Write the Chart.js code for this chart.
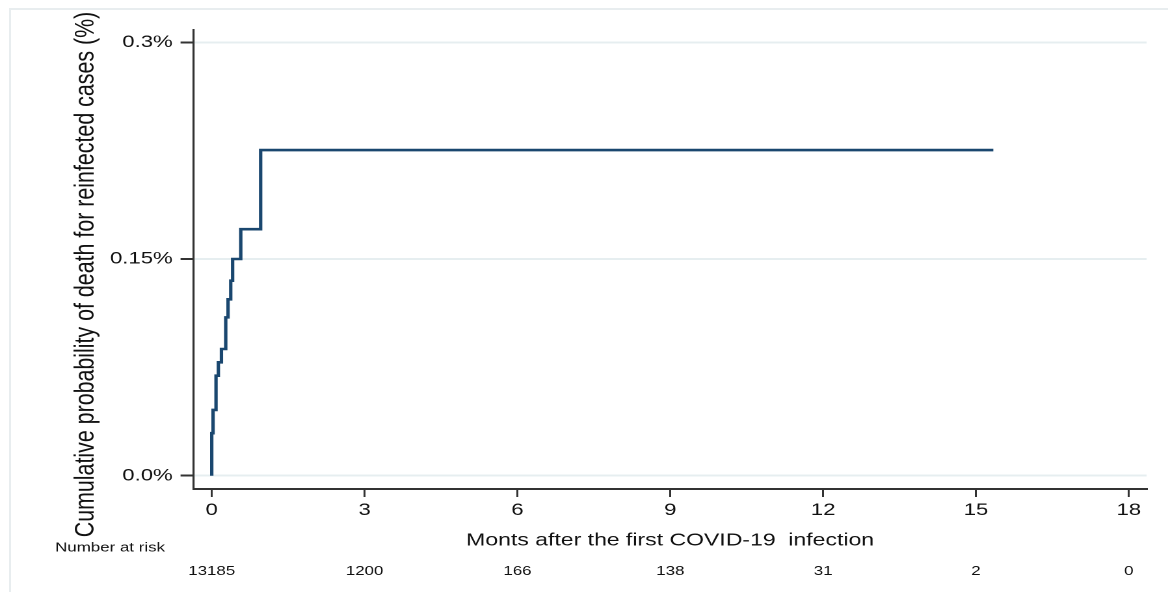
<!DOCTYPE html>
<html>
<head>
<meta charset="utf-8">
<title>Cumulative probability of death for reinfected cases</title>
<script src="https://cdn.jsdelivr.net/npm/chart.js@4/dist/chart.umd.min.js"></script>
<style>
    html, body { margin: 0; padding: 0; background: #fff; overflow: hidden; }
    #frame { position: absolute; left: 9px; top: 8px; width: 1170px; height: 600px; border-left: 2px solid #e8edef; border-top: 2px solid #e8edef; }
    /* the reference figure is stretched sideways, so is this one */
    #stretch { position: absolute; left: 0; top: 0; width: 898px; height: 592px; transform: scaleX(1.30067); transform-origin: 0 0; }
</style>
</head>
<body>
<div id="frame"></div>
<div id="stretch"><canvas id="kmChart" width="898" height="592"></canvas></div>
<script>
// KM failure steps: months and cumulative probability of death (%)
var eventMonths = [0, 0, 0.026, 0.084, 0.13, 0.19, 0.275, 0.32, 0.373, 0.41, 0.57, 0.96, 15.34];
var cumDeath = [0, 0.0294, 0.0455, 0.0692, 0.0785, 0.0877, 0.1096, 0.1221, 0.135, 0.15, 0.1706, 0.2254, 0.2254];

var xTicks = [0, 3, 6, 9, 12, 15, 18];
var yTicks = [0, 0.15, 0.3];
var yTickLabels = ['0.0%', '0.15%', '0.3%'];

var riskMonths = [0, 3, 6, 9, 12, 15, 18];
var numberAtRisk = [13185, 1200, 166, 138, 31, 2, 0];

var FONT = '"Liberation Sans", Arial, sans-serif';
var TEXT = '#111111';
var AXIS = '#333333';

Chart.defaults.font.family = FONT;

//number at risk row + rotated y title
var riskTable = {
    id: 'riskTable',
    afterDraw: function (chart) {
        var ctx = chart.ctx;
        var xs = chart.scales.x;
        ctx.save();
        ctx.fillStyle = TEXT;
        ctx.textAlign = 'center';
        ctx.textBaseline = 'middle';
        ctx.font = '13px ' + FONT;
        ctx.fillText('Number at risk', 84.6, 548);
        for (var i = 0; i < numberAtRisk.length; i++) {
            ctx.fillText(String(numberAtRisk[i]), xs.getPixelForValue(riskMonths[i]), 571.5);
        }
        ctx.translate(66, 274.5);
        ctx.rotate(-Math.PI / 2);
        ctx.font = '21.4px ' + FONT;
        ctx.fillText('Cumulative probability of death for reinfected cases (%)', 0, 0);
        ctx.restore();
    }
};

var points = eventMonths.map(function (m, i) { return { x: m, y: cumDeath[i] }; });

new Chart(document.getElementById('kmChart'), {
    type: 'line',
    data: {
        datasets: [{
            data: points,
            stepped: true,
            borderColor: '#1a476f',
            borderWidth: 2.6,
            pointRadius: 0,
            fill: false
        }]
    },
    options: {
        responsive: false,
        animation: false,
        devicePixelRatio: 2,
        layout: { padding: { left: 0, right: 16.4, top: 30, bottom: 40.9 } },
        plugins: {
            legend: { display: false },
            tooltip: { enabled: false }
        },
        scales: {
            x: {
                type: 'linear',
                min: -0.357,
                max: 18.35,
                afterBuildTicks: function (s) { s.ticks = xTicks.map(function (v) { return { value: v }; }); },
                afterFit: function (s) { s.height = 62.1; },
                grid: { drawOnChartArea: false, tickLength: 8, tickColor: AXIS, tickWidth: 1.5, lineWidth: 1.5 },
                border: { color: AXIS, width: 2 },
                ticks: { padding: 3, color: TEXT, font: { size: 17 }, maxRotation: 0, autoSkip: false },
                title: {
                    display: true,
                    text: 'Monts after the first COVID-19  infection',
                    color: TEXT,
                    font: { size: 17.7 },
                    padding: 0
                }
            },
            y: {
                min: -0.0092,
                max: 0.3085,
                afterBuildTicks: function (s) { s.ticks = yTicks.map(function (v) { return { value: v }; }); },
                afterFit: function (s) { s.width = 148.8; },
                grid: { color: '#e6eef0', lineWidth: 2, tickLength: 10, tickColor: AXIS, tickWidth: 2 },
                border: { color: AXIS, width: 1.6 },
                ticks: {
                    padding: 6,
                    color: TEXT,
                    font: { size: 17 },
                    autoSkip: false,
                    callback: function (v) { return yTickLabels[yTicks.indexOf(v)]; }
                }
            }
        }
    },
    plugins: [riskTable]
});
</script>
</body>
</html>
